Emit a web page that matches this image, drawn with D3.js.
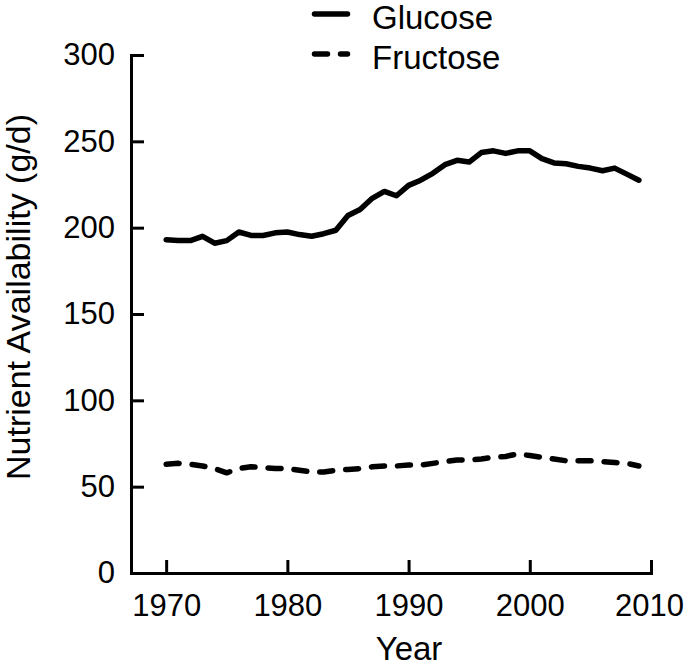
<!DOCTYPE html>
<html>
<head>
<meta charset="utf-8">
<script src="https://cdn.jsdelivr.net/npm/d3@7"></script>
<style>
  body { margin: 0; background: #fff; }
  svg text { font-family: "Liberation Sans", Arial, sans-serif; fill: #000; }
</style>
</head>
<body>
<svg id="chart" width="685" height="668"></svg>
<script>
// years 1970-2009, values in g/d
const years = d3.range(1970, 2010);
const glucose = [
  193, 192.5, 192.5, 195, 191, 192.5, 197.5, 195.5, 195.5, 197,
  197.5, 196, 195, 196.5, 198.5, 207, 210.5, 217, 221, 218.5,
  224.5, 227.5, 231.5, 236.5, 239, 238, 243.5, 244.5, 243, 244.5,
  244.5, 240, 237.5, 237, 235.5, 234.5, 233, 234.5, 231, 227.5,
];
const fructose = [
  63, 63.5, 63, 62, 60.5, 58, 60.5, 61.5, 61, 60.5,
  60.5, 59.5, 58.5, 58.5, 59.5, 60, 60.5, 61.5, 62, 62,
  62.5, 62.5, 63.5, 64.5, 65.5, 65.5, 66, 67, 67.5, 69,
  68, 67, 66, 65, 65, 65, 64.5, 64, 63.5, 62,
];
const xTicks = [1970, 1980, 1990, 2000, 2010];
const yTicks = [0, 50, 100, 150, 200, 250, 300];
const seriesNames = ["Glucose", "Fructose"];

const svg = d3.select("#chart");
const tickFont = 31;
const labelFont = 33;

const x = d3.scaleLinear().domain([1967.1, 2010]).range([131, 651]);
const y = d3.scaleLinear().domain([0, 300]).range([573, 55]);

// axes, ticks pointing inward
const xAxis = svg.append("g")
  .attr("transform", `translate(0,${y(0)})`)
  .call(d3.axisBottom(x).tickValues(xTicks).tickFormat(d3.format("d"))
    .tickSizeInner(-13).tickSizeOuter(0).tickPadding(21));

const yAxis = svg.append("g")
  .attr("transform", `translate(${x.range()[0]},0)`)
  .call(d3.axisLeft(y).tickValues(yTicks)
    .tickSizeInner(-13).tickSizeOuter(0).tickPadding(16));

[xAxis, yAxis].forEach((g) => {
  g.select(".domain").attr("stroke", "#000").attr("stroke-width", 3)
    .attr("stroke-linecap", "square");
  g.selectAll(".tick line").attr("stroke", "#000").attr("stroke-width", 3);
  g.selectAll(".tick text").attr("font-size", tickFont)
    .attr("font-family", "Liberation Sans, Arial, sans-serif");
});
// last year label sits right at the page edge
xAxis.selectAll(".tick text").filter((d) => d === 2010).attr("dx", -2);

const line = d3.line().x((d, i) => x(years[i])).y((d) => y(d));

svg.append("path")
  .datum(glucose)
  .attr("d", line)
  .attr("fill", "none")
  .attr("stroke", "#000")
  .attr("stroke-width", 5.5)
  .attr("stroke-linejoin", "round")
  .attr("stroke-linecap", "round");

svg.append("path")
  .datum(fructose)
  .attr("d", line)
  .attr("fill", "none")
  .attr("stroke", "#000")
  .attr("stroke-width", 5.5)
  .attr("stroke-dasharray", "13,13")
  .attr("stroke-linejoin", "round")
  .attr("stroke-linecap", "round");

// legend
const legend = svg.append("g");
seriesNames.forEach((name, i) => {
  const ly = 14 + i * 40;
  legend.append("line")
    .attr("x1", 314.5).attr("x2", 347.5)
    .attr("y1", ly).attr("y2", ly)
    .attr("stroke", "#000").attr("stroke-width", 5.5)
    .attr("stroke-linecap", "round")
    .attr("stroke-dasharray", i === 1 ? "13,13" : null);
  legend.append("text")
    .attr("x", 372).attr("y", ly + 15)
    .attr("font-size", labelFont)
    .text(name);
});

// axis titles
svg.append("text")
  .attr("x", 409)
  .attr("y", 660)
  .attr("text-anchor", "middle")
  .attr("font-size", labelFont)
  .text("Year");

svg.append("text")
  .attr("transform", "translate(30,480) rotate(-90)")
  .attr("text-anchor", "start")
  .attr("font-size", 34)
  .text("Nutrient Availability (g/d)");
</script>
</body>
</html>
